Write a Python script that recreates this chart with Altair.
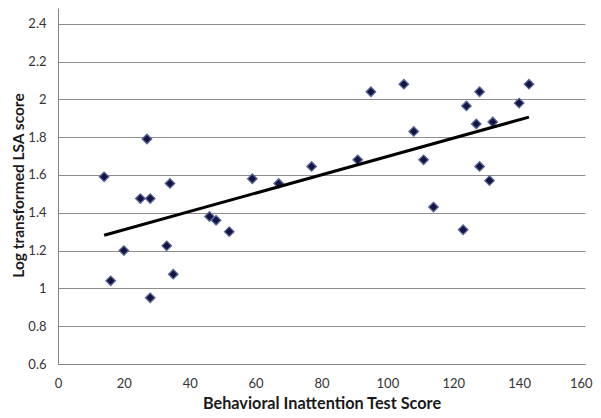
import altair as alt
import pandas as pd

bit_score = [14, 16, 20, 25, 27, 28, 28, 33, 34, 35,
             46, 48, 52, 59, 67, 77, 91, 95,
             105, 108, 111, 114, 123, 124, 127, 128, 128, 131, 132, 140, 143]
log_lsa = [1.59, 1.04, 1.20, 1.475, 1.79, 1.475, 0.95, 1.225, 1.555, 1.075,
           1.38, 1.36, 1.30, 1.58, 1.555, 1.645, 1.68, 2.04,
           2.08, 1.83, 1.68, 1.43, 1.31, 1.965, 1.87, 2.04, 1.645, 1.57, 1.88, 1.98, 2.08]

x_ticks = [0, 20, 40, 60, 80, 100, 120, 140, 160]
y_ticks = [0.6, 0.8, 1.0, 1.2, 1.4, 1.6, 1.8, 2.0, 2.2, 2.4]

df = pd.DataFrame({"bit": bit_score, "lsa": log_lsa})

FONT = "Lato"

x_enc = alt.X("bit:Q",
              scale=alt.Scale(domain=[0, 160], nice=False, zero=False),
              axis=alt.Axis(values=x_ticks, title="Behavioral Inattention Test Score",
                            grid=False, ticks=False, domainColor="#868686",
                            labelFont=FONT, labelFontSize=13, labelColor="#333333",
                            labelPadding=13, labelFlush=False,
                            labelAlign={"condition": {"test": "datum.value == 160", "value": "right"},
                                        "value": "center"},
                            labelOffset={"condition": {"test": "datum.value == 160", "value": 7},
                                         "value": 0},
                            titleFont=FONT, titleFontSize=16.25, titleFontWeight="bold",
                            titleColor="#1a1a1a", titleY=44, titleBaseline="alphabetic"))
y_enc = alt.Y("lsa:Q",
              scale=alt.Scale(domain=[0.6, 2.483], nice=False, zero=False),
              axis=alt.Axis(values=y_ticks, title="Log transformed LSA score",
                            grid=True, gridColor="#8c8c8c", gridWidth=1,
                            ticks=False, domainColor="#868686",
                            labelFont=FONT, labelFontSize=13, labelColor="#333333",
                            labelPadding=12, labelFlush=False,
                            labelExpr="datum.value == 1 ? '1' : datum.value == 2 ? '2' : datum.label",
                            titleFont=FONT, titleFontSize=15.5, titleFontWeight="bold",
                            titleColor="#1a1a1a", titleAngle=270,
                            titleX=-35, titleY=177, titleAlign="center",
                            titleBaseline="alphabetic"))

base = alt.Chart(df)

points = base.mark_point(shape="diamond", filled=True, size=90, fill="#141440",
                         stroke="#56659a", strokeWidth=1.3, opacity=1).encode(x=x_enc, y=y_enc)

trend = base.transform_regression("bit", "lsa").mark_line(
    color="black", strokeWidth=3).encode(x=x_enc, y=y_enc)

chart = alt.layer(points, trend).properties(
    width=527, height=356,
    autosize=alt.AutoSizeParams(type="none"),
    padding={"left": 50, "top": 0, "right": 8, "bottom": 46},
    background="white",
).configure_view(stroke=None)

chart.save("out.html", embed_options={"renderer": "svg", "actions": False})
